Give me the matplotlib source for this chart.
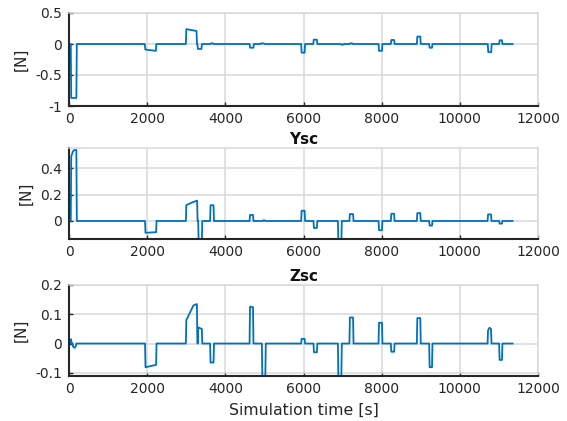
import matplotlib
matplotlib.use("Agg")
import matplotlib.pyplot as plt
from matplotlib.patches import Rectangle
import numpy as np

plt.rcParams['font.family'] = ['DejaVu Sans']

t_end = 11350.0

# pulses: (start time, end time, levels spread evenly over the pulse)
xsc_pulses = [
    (45, 200, [-0.87, -0.87]),
    (1940, 2235, [-0.09, -0.11]),
    (2990, 3275, [0.24, 0.21]),
    (3285, 3400, [-0.08, -0.08]),
    (3620, 3700, [0.01]),
    (4620, 4730, [-0.06]),
    (4900, 5000, [0.01]),
    (5940, 6040, [-0.14]),
    (6250, 6355, [0.07]),
    (6950, 7030, [-0.01]),
    (7180, 7260, [0.01]),
    (7920, 8020, [-0.11]),
    (8235, 8330, [0.065]),
    (8900, 9000, [0.12]),
    (9215, 9300, [-0.06]),
    (10715, 10815, [-0.13]),
    (11005, 11090, [0.06]),
]

ysc_pulses = [
    (45, 200, [0.49, 0.53, 0.54, 0.54]),
    (1945, 2240, [-0.09, -0.085]),
    (2990, 3290, [0.12, 0.14, 0.155]),
    (3305, 3410, [-0.16]),
    (3610, 3710, [0.12]),
    (4620, 4720, [0.046]),
    (4960, 5020, [0.005]),
    (5940, 6040, [0.078]),
    (6255, 6355, [-0.053]),
    (6880, 6980, [-0.16]),
    (7175, 7280, [0.053]),
    (7920, 8020, [-0.07]),
    (8235, 8330, [0.055]),
    (8900, 9000, [0.06]),
    (9215, 9300, [-0.035]),
    (10710, 10810, [0.05]),
    (11005, 11090, [-0.02]),
]

zsc_pulses = [
    (40, 75, [0.015, 0.005]),
    (90, 190, [-0.01, -0.015, -0.008]),
    (1945, 2240, [-0.081, -0.073]),
    (2990, 3285, [0.08, 0.105, 0.13, 0.135]),
    (3295, 3410, [0.055, 0.05]),
    (3610, 3710, [-0.065]),
    (4620, 4720, [0.126, 0.124]),
    (4935, 5035, [-0.115]),
    (5940, 6040, [0.016]),
    (6255, 6355, [-0.03]),
    (6880, 6980, [-0.115]),
    (7175, 7280, [0.089]),
    (7920, 8020, [0.071]),
    (8235, 8330, [-0.028]),
    (8900, 9000, [0.087]),
    (9215, 9300, [-0.081]),
    (10710, 10810, [0.045, 0.054, 0.05]),
    (11005, 11090, [-0.056]),
]

titles = ["Xsc", "Ysc", "Zsc"]
ylims = [(-1.0, 0.5), (-0.137, 0.555), (-0.111, 0.2)]
yticks = [[-1, -0.5, 0, 0.5], [0, 0.2, 0.4], [-0.1, 0, 0.1, 0.2]]
yticklabels = [["-1", "-0.5", "0", "0.5"], ["0", "0.2", "0.4"], ["-0.1", "0", "0.1", "0.2"]]
xticks = [0, 2000, 4000, 6000, 8000, 10000, 12000]


def build(pulses, ramp=12.0):
    t = [0.0]
    v = [0.0]
    for t0, t1, levels in pulses:
        t.append(t0)
        v.append(0.0)
        n = len(levels)
        if n == 1:
            pts = [t0 + ramp, t1 - ramp]
            vals = [levels[0], levels[0]]
        else:
            pts = list(np.linspace(t0 + ramp, t1 - ramp, n))
            vals = list(levels)
        t.extend(pts)
        v.extend(vals)
        t.append(t1)
        v.append(0.0)
    t.append(t_end)
    v.append(0.0)
    return np.array(t), np.array(v)


W, H = 567, 421
fig = plt.figure(figsize=(W / 100, H / 100), dpi=100)

boxes = [(69, 13, 538, 106), (69, 148, 538, 239), (69, 285, 538, 376)]
series = [xsc_pulses, ysc_pulses, zsc_pulses]
color = '#0072BD'
gridc = '#d9d9d9'
axc = '#262626'

for i, (l, tp, r, b) in enumerate(boxes):
    ax = fig.add_axes([l / W, 1 - b / H, (r - l) / W, (b - tp) / H])
    t, v = build(series[i])
    ax.plot(t, v, color=color, lw=1.3)
    ax.set_xlim(0, 12000)
    ax.set_ylim(*ylims[i])
    ax.set_xticks(xticks)
    ax.set_xticklabels([str(x) for x in xticks])
    ax.set_yticks(yticks[i])
    ax.set_yticklabels(yticklabels[i])
    ax.grid(True, color=gridc, lw=1.1)
    ax.set_axisbelow(True)
    for s in ['top', 'right']:
        ax.spines[s].set_color(gridc)
        ax.spines[s].set_linewidth(1.1)
    for s in ['left', 'bottom']:
        ax.spines[s].set_color(axc)
        ax.spines[s].set_linewidth(1.5)
    ax.tick_params(direction='in', length=3, width=1.0, colors=axc,
                   labelsize=10, labelcolor='#262626', top=False, right=False)
    ax.tick_params(axis='y', pad=5)
    ax.tick_params(axis='x', pad=4)
    ax.set_title(titles[i], fontsize=11, fontweight='bold', pad=3, color='#111111')
    ax.set_ylabel('[N]', fontsize=11, color='#262626', labelpad=5)
    if i == 2:
        ax.set_xlabel('Simulation time [s]', fontsize=11.3, color='#262626', labelpad=5)

# top of the figure is cut off in the reference (first title mostly hidden)
fig.add_artist(Rectangle((250 / W, 1 - 8 / H), 110 / W, 8 / H, transform=fig.transFigure,
                         color='white', zorder=10))

fig.savefig('out.png', dpi=100)
